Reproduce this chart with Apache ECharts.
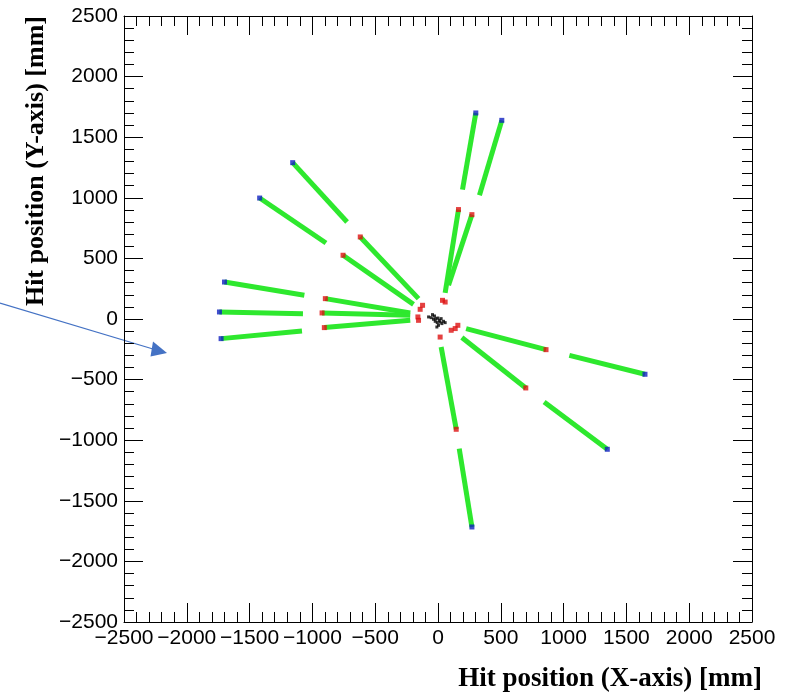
<!DOCTYPE html>
<html><head><meta charset="utf-8">
<script src="https://cdn.jsdelivr.net/npm/echarts@6/dist/echarts.min.js"></script>
<style>html,body{margin:0;padding:0;background:#fff}#c{width:797px;height:698px}</style>
</head><body><div id="c"></div>
<script>
// Axis range (mm)
const axisMin = -2500, axisMax = 2500, axisStep = 500;

// Outer track segments: [xBlueEnd, yBlueEnd, xInnerEnd, yInnerEnd] (mm)
const outerSegments = [
  [-1157, 1290, -724, 800],
  [-1420, 998, -892, 627],
  [-1700, 305, -1064, 196],
  [-1740, 58, -1075, 44],
  [-1727, -162, -1083, -99],
  [301, 1700, 195, 1068],
  [508, 1639, 330, 1021],
  [1648, -456, 1046, -300],
  [1348, -1075, 845, -685],
  [270, -1716, 169, -1069]
];

// Inner track segments: [xRedEnd, yRedEnd, xCentreEnd, yCentreEnd] (mm)
const innerSegments = [
  [-619, 677, -155, 168],
  [-756, 526, -195, 121],
  [-897, 168, -221, 50],
  [-923, 50, -221, 30],
  [-905, -71, -221, -11],
  [163, 903, 57, 215],
  [270, 861, 84, 278],
  [860, -253, 224, -79],
  [699, -569, 190, -153],
  [145, -910, 25, -231]
];

// Extra red hits near the vertex (mm)
const redVertexHits = [
  [-123, 113], [-142, 80], [-160, 17], [-155, -11],
  [36, 154], [57, 140], [105, -93], [137, -79], [158, -52], [17, -149]
];

// Black vertex hits (mm)
const vertexHits = [
  [-75, 17], [-44, 36], [-28, 25], [-17, 3], [-1, 8], [10, -11], [-22, -19],
  [-6, -30], [17, -25], [31, -38], [4, -52], [44, -19], [25, 3], [-36, -2],
  [-54, 11], [57, -30], [-9, -66]
];

const blueHits = outerSegments.map(s => [s[0], s[1]]);
const redHits = innerSegments.map(s => [s[0], s[1]]).concat(redVertexHits);
const segData = outerSegments.concat(innerSegments).map(s => ({coords: [[s[0], s[1]], [s[2], s[3]]]}));

const fmt = v => String(v).replace('-', '\u2212');
const labelFont = {fontFamily: 'Liberation Sans', fontSize: 21, color: '#000'};
const black = {color: '#000', width: 1};

function mkAxis(pos, showLabel, horizontal) {
  const label = Object.assign({show: showLabel, margin: 6, formatter: fmt, hideOverlap: false}, labelFont);
  if (horizontal) { label.alignMinLabel = 'center'; label.alignMaxLabel = 'center'; }
  return {
    type: 'value', min: axisMin, max: axisMax, interval: axisStep, position: pos,
    axisLine: {show: true, onZero: false, lineStyle: black},
    axisTick: {show: true, inside: true, length: 19, lineStyle: black},
    minorTick: {show: true, splitNumber: 5, length: 10, lineStyle: black},
    splitLine: {show: false},
    axisLabel: label
  };
}

const chart = echarts.init(document.getElementById('c'), null, {renderer: 'canvas'});
chart.setOption({
  animation: false,
  backgroundColor: '#fff',
  grid: {left: 124, right: 45, top: 16, bottom: 76, containLabel: false},
  xAxis: [mkAxis('bottom', true, true), mkAxis('top', false, true)],
  yAxis: [mkAxis('left', true, false), mkAxis('right', false, false)],
  series: [
    {type: 'lines', coordinateSystem: 'cartesian2d', xAxisIndex: 0, yAxisIndex: 0,
     data: segData, silent: true,
     lineStyle: {color: '#2ee82e', width: 5, opacity: 1, cap: 'butt'}},
    {type: 'scatter', data: vertexHits, symbol: 'rect', symbolSize: 3,
     itemStyle: {color: '#000'}, silent: true},
    {type: 'scatter', data: redHits, symbol: 'rect', symbolSize: 5,
     itemStyle: {color: '#dd1111'}, silent: true},
    {type: 'scatter', data: blueHits, symbol: 'rect', symbolSize: 5,
     itemStyle: {color: '#1020c0'}, silent: true}
  ],
  graphic: [
    {type: 'line', shape: {x1: 0, y1: 303, x2: 153, y2: 349},
     style: {stroke: '#4472c4', lineWidth: 1.2}},
    {type: 'polygon', shape: {points: [[167, 353], [153, 341.5], [150.5, 356.5]]},
     style: {fill: '#4472c4'}},
    {type: 'text', x: 762, y: 679,
     style: {text: 'Hit position (X-axis) [mm]', fontFamily: 'Liberation Serif', fontWeight: 'bold',
       fontSize: 27, fill: '#000', align: 'right', verticalAlign: 'middle'}},
    {type: 'text', x: 36, y: 16, rotation: Math.PI / 2,
     style: {text: 'Hit position (Y-axis) [mm]', fontFamily: 'Liberation Serif', fontWeight: 'bold',
       fontSize: 26, fill: '#000', align: 'right', verticalAlign: 'middle'}}
  ]
});
</script></body></html>
